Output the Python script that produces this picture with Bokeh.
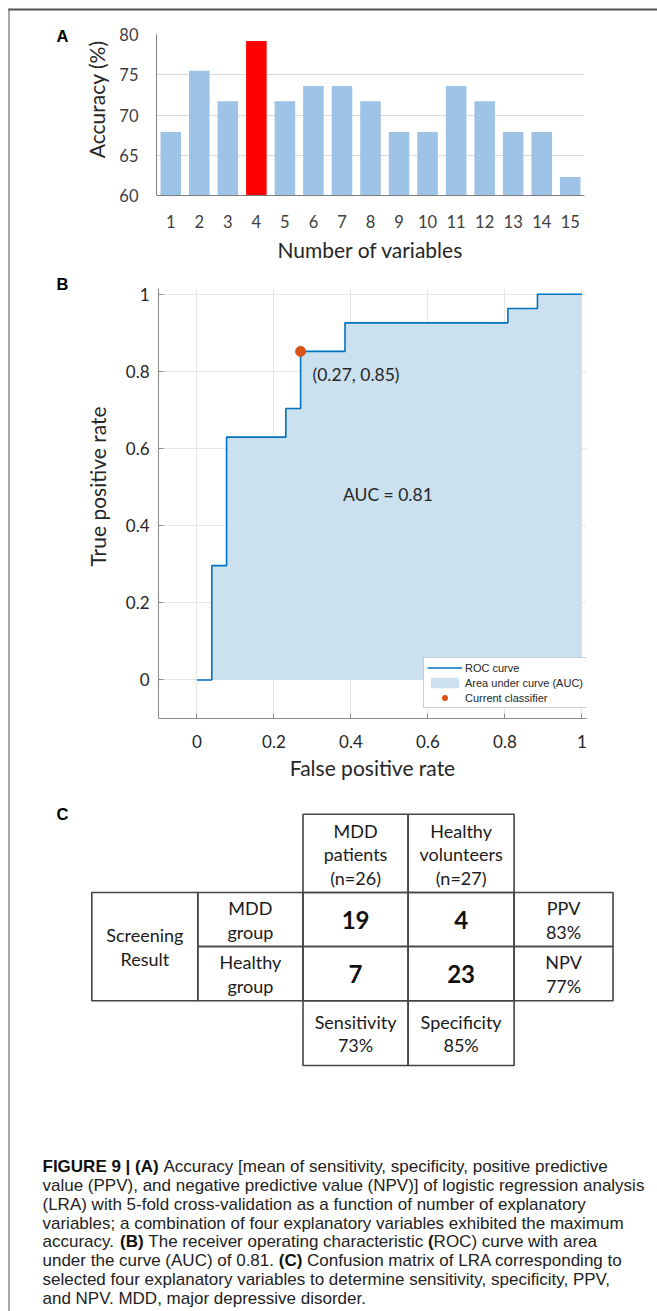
import numpy as np
from bokeh.plotting import figure
from bokeh.models import (Range1d, FixedTicker, CustomJSTickFormatter, Label, Title,
                          Legend, LegendItem, ColumnDataSource)
from bokeh.core.properties import value
from bokeh.embed import file_html
from bokeh.resources import INLINE

# ---------------- data ----------------
# Panel A: accuracy vs number of explanatory variables
n_vars = list(range(1, 16))
accuracy = [67.9, 75.5, 71.7, 79.2, 71.7, 73.6, 73.6, 71.7, 67.9, 67.9, 73.6, 71.7, 67.9, 67.9, 62.3]
acc_ticks = [60, 65, 70, 75, 80]

# Panel B: ROC curve vertices (step "after")
roc_fpr = [0.0, 0.0385, 0.0769, 0.2308, 0.2692, 0.3846, 0.8077, 0.8846, 1.0]
roc_tpr = [0.0, 0.2963, 0.6296, 0.7037, 0.8519, 0.9259, 0.9630, 1.0, 1.0]
cur_fpr = 0.2692
cur_tpr = 0.8519
rate_ticks = [0, 0.2, 0.4, 0.6, 0.8, 1.0]
legend_labels = ["ROC curve", "Area under curve (AUC)", "Current classifier"]

# Panel C: confusion matrix
true_classes = ["MDD patients", "Healthy volunteers"]
pred_classes = [["MDD", "group"], ["Healthy", "group"]]
confusion = [[19, 4], [7, 23]]   # rows: screening result, cols: true class

# Caption: (text, bold, space before)
caption_lines = [
    [("FIGURE 9 | (A)", True, False), ("Accuracy [mean of sensitivity, specificity, positive predictive", False, True)],
    [("value (PPV), and negative predictive value (NPV)] of logistic regression analysis", False, False)],
    [("(LRA) with 5-fold cross-validation as a function of number of explanatory", False, False)],
    [("variables; a combination of four explanatory variables exhibited the maximum", False, False)],
    [("accuracy.", False, False), ("(B)", True, True), ("The receiver operating characteristic", False, True),
     ("(", True, True), ("ROC) curve with area", False, False)],
    [("under the curve (AUC) of 0.81.", False, False), ("(C)", True, True),
     ("Confusion matrix of LRA corresponding to", False, True)],
    [("selected four explanatory variables to determine sensitivity, specificity, PPV,", False, False)],
    [("and NPV. MDD, major depressive disorder.", False, False)],
]

# ---------------- styles ----------------
CHART_FONT = "Lato"
SANS = "Liberation Sans"
DARK = "#262626"
FRAME = "#555555"
W = 648
SIDE = {"margin-left": "9px"}

def style_blank(p):
    p.xaxis.visible = False
    p.yaxis.visible = False
    p.grid.visible = False
    p.outline_line_color = None
    p.toolbar.logo = None

def letter_fig(text, left, top):
    f = figure(width=26, height=26, x_range=Range1d(0, 26), y_range=Range1d(26, 0),
               min_border=0, output_backend="svg", toolbar_location=None,
               background_fill_alpha=0, border_fill_alpha=0,
               styles={"position": "absolute", "left": f"{left}px", "top": f"{top}px"})
    style_blank(f)
    f.text(x=[13], y=[13], text=[text], text_align="center", text_baseline="middle",
           text_font=value(SANS), text_font_style="bold", text_font_size="16.5px",
           text_color="black")
    return f

def ylabel_title(text, offset, standoff):
    return Title(text=text, align="right", offset=offset, standoff=standoff,
                 text_font=CHART_FONT, text_font_style="normal", text_font_size="21px",
                 text_color=DARK)

# ---------------- Panel A ----------------
pA = figure(width=W, height=260, x_range=Range1d(0.5, 15.5), y_range=Range1d(60, 80),
            min_border_left=147, min_border_right=73, min_border_top=24, min_border_bottom=75,
            output_backend="svg", toolbar_location=None,
            styles=dict(SIDE, **{"margin-top": "10px"}))
pA.toolbar.logo = None
best = max(accuracy)
bar_colors = ["#ff0000" if a == best else "#9dc3e6" for a in accuracy]
srcA = ColumnDataSource(dict(x=n_vars, top=accuracy, color=bar_colors))
pA.vbar(x="x", top="top", bottom=pA.y_range.start, width=0.72, fill_color="color",
        line_color=None, source=srcA)
pA.outline_line_color = None
pA.xgrid.visible = False
pA.ygrid.grid_line_color = "#d9d9d9"
pA.ygrid.ticker = FixedTicker(ticks=acc_ticks)
for ax in (pA.xaxis, pA.yaxis):
    ax.major_tick_in = 0
    ax.major_tick_out = 0
    ax.minor_tick_line_color = None
    ax.axis_line_color = "#7f7f7f"
    ax.major_label_text_font = CHART_FONT
    ax.major_label_text_font_size = "16.5px"
    ax.major_label_text_color = "#404040"
pA.xaxis.ticker = FixedTicker(ticks=n_vars)
pA.yaxis.ticker = FixedTicker(ticks=acc_ticks)
pA.xaxis.major_label_standoff = 19
pA.yaxis.major_label_standoff = 18
pA.xaxis.axis_label = "Number of variables"
pA.xaxis.axis_label_text_font = CHART_FONT
pA.xaxis.axis_label_text_font_size = "21px"
pA.xaxis.axis_label_text_font_style = "normal"
pA.xaxis.axis_label_text_color = DARK
pA.xaxis.axis_label_standoff = 6
pA.add_layout(ylabel_title("Accuracy (%)", 6, 15), "left")

# ---------------- Panel B ----------------
pB = figure(width=W, height=515, x_range=Range1d(-0.1, 1.012), y_range=Range1d(-0.1, 1.015),
            min_border_left=149, min_border_right=71, min_border_top=18, min_border_bottom=67,
            output_backend="svg", toolbar_location=None, styles=dict(SIDE))
pB.toolbar.logo = None
pB.outline_line_color = None
area_r = pB.varea_step(x=roc_fpr, y1=0, y2=roc_tpr, step_mode="after",
                       fill_color="#cbe1f0", fill_alpha=1.0)
line_r = pB.step(x=roc_fpr, y=roc_tpr, mode="after", line_color="#0072bd", line_width=1.6)
dot_r = pB.scatter(x=[cur_fpr], y=[cur_tpr], size=10, fill_color="#d95319", line_color="#d95319")
fmt = CustomJSTickFormatter(code="return String(Math.round(tick*10)/10);")
for ax in (pB.xaxis, pB.yaxis):
    ax.ticker = FixedTicker(ticks=rate_ticks)
    ax.formatter = fmt
    ax.major_tick_in = 5
    ax.major_tick_out = 0
    ax.minor_tick_line_color = None
    ax.axis_line_color = "#8a8a8a"
    ax.major_tick_line_color = "#8a8a8a"
    ax.major_label_text_font = CHART_FONT
    ax.major_label_text_font_size = "17px"
    ax.major_label_text_color = DARK
pB.xaxis.major_label_standoff = 16
pB.yaxis.major_label_standoff = 9
pB.grid.grid_line_color = "#e6e6e6"
pB.xaxis.axis_label = "False positive rate"
pB.xaxis.axis_label_text_font = CHART_FONT
pB.xaxis.axis_label_text_font_size = "21px"
pB.xaxis.axis_label_text_font_style = "normal"
pB.xaxis.axis_label_text_color = DARK
pB.xaxis.axis_label_standoff = 4
pB.add_layout(ylabel_title("True positive rate", 118, 25), "left")
auc = float(np.sum(np.diff(roc_fpr) * np.array(roc_tpr[:-1])))
pB.add_layout(Label(x=cur_fpr + 0.031, y=cur_tpr - 0.06, text=f"({cur_fpr:.2f}, {cur_tpr:.2f})",
                    text_align="left", text_baseline="middle", text_font=CHART_FONT,
                    text_font_size="17.5px", text_color=DARK))
pB.add_layout(Label(x=0.496, y=0.481, text=f"AUC = {auc:.2f}", text_align="center",
                    text_baseline="middle", text_font=CHART_FONT, text_font_size="17.5px",
                    text_color=DARK))
legend = Legend(items=[LegendItem(label=legend_labels[0], renderers=[line_r]),
                       LegendItem(label=legend_labels[1], renderers=[area_r]),
                       LegendItem(label=legend_labels[2], renderers=[dot_r])],
                location=(265, 10), glyph_width=35, glyph_height=13, label_height=13,
                spacing=2, padding=3, margin=0, label_standoff=3,
                label_text_font=SANS, label_text_font_size="11px", label_text_color=DARK,
                border_line_color="#9a9a9a", border_line_width=1,
                background_fill_color="white", background_fill_alpha=1.0)
pB.add_layout(legend)

# ---------------- Panel C (table) ----------------
HC = 293
pC = figure(width=W, height=HC, x_range=Range1d(0, W), y_range=Range1d(HC, 0),
            min_border=0, output_backend="svg", toolbar_location=None, styles=dict(SIDE))
style_blank(pC)
col_edges = [82.3, 188.3, 293.5, 398.6, 504.6, 603.5]
row_edges = [28.7, 107.0, 161.0, 215.3, 280.0]

cells = []   # (c0, c1, r0, r1, lines, bold)
tp, fp = confusion[0]
fn, tn = confusion[1]
col_tot = [tp + fn, fp + tn]
for j in range(2):
    cells.append((2 + j, 3 + j, 0, 1, true_classes[j].split(" ") + [f"(n={col_tot[j]})"], False))
cells.append((0, 1, 1, 3, ["Screening", "Result"], False))
for i in range(2):
    cells.append((1, 2, 1 + i, 2 + i, pred_classes[i], False))
    for j in range(2):
        cells.append((2 + j, 3 + j, 1 + i, 2 + i, [str(confusion[i][j])], True))
ppv = round(100 * tp / (tp + fp))
npv = round(100 * tn / (tn + fn))
sens = round(100 * tp / (tp + fn))
spec = round(100 * tn / (tn + fp))
cells.append((4, 5, 1, 2, ["PPV", f"{ppv}%"], False))
cells.append((4, 5, 2, 3, ["NPV", f"{npv}%"], False))
cells.append((2, 3, 3, 4, ["Sensitivity", f"{sens}%"], False))
cells.append((3, 4, 3, 4, ["Specificity", f"{spec}%"], False))

q = dict(left=[], right=[], top=[], bottom=[])
tn_ = dict(x=[], y=[], text=[])
tb_ = dict(x=[], y=[], text=[])
LS = 23.4
for c0, c1, r0, r1, lines, bold in cells:
    q["left"].append(col_edges[c0]); q["right"].append(col_edges[c1])
    q["top"].append(row_edges[r0]); q["bottom"].append(row_edges[r1])
    cx = (col_edges[c0] + col_edges[c1]) / 2
    cy = (row_edges[r0] + row_edges[r1]) / 2 + (1.0 if len(lines) == 3 else 0.5)
    n = len(lines)
    for k, t in enumerate(lines):
        d = tb_ if bold else tn_
        d["x"].append(cx); d["y"].append(cy + (k - (n - 1) / 2) * LS); d["text"].append(t)
pC.quad(source=ColumnDataSource(q), left="left", right="right", top="top", bottom="bottom",
        fill_color=None, line_color="#444444", line_width=1.6)
pC.text(source=ColumnDataSource(tn_), x="x", y="y", text="text", text_align="center",
        text_baseline="middle", text_font=value(CHART_FONT), text_font_size="18px",
        text_color="#1a1a1a")
pC.text(source=ColumnDataSource(tb_), x="x", y="y", text="text", text_align="center",
        text_baseline="middle", text_font=value(CHART_FONT), text_font_style="bold",
        text_font_size="24px", text_color="#111111")
pC.text(x=[53], y=[28], text=["C"], text_align="center", text_baseline="middle",
        text_font=value(SANS), text_font_style="bold", text_font_size="16.5px", text_color="black")

# ---------------- Caption ----------------
REG = {' ': 278, '(': 333, ')': 333, '[': 278, ']': 278, ',': 278, '.': 278, ';': 278, '-': 333,
       '|': 260, '=': 584, '%': 889,
       'A': 667, 'B': 667, 'C': 722, 'D': 722, 'E': 667, 'F': 611, 'G': 778, 'H': 722, 'I': 278,
       'J': 500, 'K': 667, 'L': 556, 'M': 833, 'N': 722, 'O': 778, 'P': 667, 'Q': 778, 'R': 722,
       'S': 667, 'T': 611, 'U': 722, 'V': 667, 'W': 944, 'X': 667, 'Y': 667, 'Z': 611,
       'a': 556, 'b': 556, 'c': 500, 'd': 556, 'e': 556, 'f': 278, 'g': 556, 'h': 556, 'i': 222,
       'j': 222, 'k': 500, 'l': 222, 'm': 833, 'n': 556, 'o': 556, 'p': 556, 'q': 556, 'r': 333,
       's': 500, 't': 278, 'u': 556, 'v': 500, 'w': 722, 'x': 500, 'y': 500, 'z': 500}
BOLD = dict(REG)
BOLD.update({' ': 278, '(': 333, ')': 333, '|': 280, 'A': 722, 'B': 722, 'C': 722, 'K': 722,
             'L': 611, 'J': 556})
def tw(s, bold, size):
    tab = BOLD if bold else REG
    return sum(tab.get(ch, 556) for ch in s) * size / 1000.0

CAP_SIZE = 17
HD = 230
pD = figure(width=W, height=HD, x_range=Range1d(0, W), y_range=Range1d(HD, 0),
            min_border=0, output_backend="svg", toolbar_location=None, styles=dict(SIDE))
style_blank(pD)
cn = dict(x=[], y=[], text=[])
cb = dict(x=[], y=[], text=[])
y0, lsp = 87.7, 18.94
for li, segs in enumerate(caption_lines):
    x = 33.0
    for t, bold, gap in segs:
        if gap:
            x += tw(" ", False, CAP_SIZE)
        d = cb if bold else cn
        d["x"].append(x); d["y"].append(y0 + li * lsp); d["text"].append(t)
        x += tw(t, bold, CAP_SIZE)
pD.text(source=ColumnDataSource(cn), x="x", y="y", text="text", text_align="left",
        text_baseline="middle", text_font=value(SANS), text_font_size=f"{CAP_SIZE}px",
        text_color="#222222")
pD.text(source=ColumnDataSource(cb), x="x", y="y", text="text", text_align="left",
        text_baseline="middle", text_font=value(SANS), text_font_style="bold",
        text_font_size=f"{CAP_SIZE}px", text_color="#111111")

# ---------------- page frame (top and left rule) ----------------
PW, PH = 657, 1311
pF = figure(width=PW, height=PH, x_range=Range1d(0, PW), y_range=Range1d(PH, 0),
            min_border=0, output_backend="svg", toolbar_location=None,
            background_fill_alpha=0, border_fill_alpha=0,
            styles={"position": "absolute", "left": "0px", "top": "0px"})
style_blank(pF)
pF.segment(x0=[8, 8.5], y0=[9, 8], x1=[PW, 8.5], y1=[9, PH], line_color=FRAME,
           line_width=[2, 1])

roots = [pA, pB, pC, pD, letter_fig("A", 49, 22), letter_fig("B", 49, 270), pF]
open("out.html", "w").write(file_html(roots, INLINE))
